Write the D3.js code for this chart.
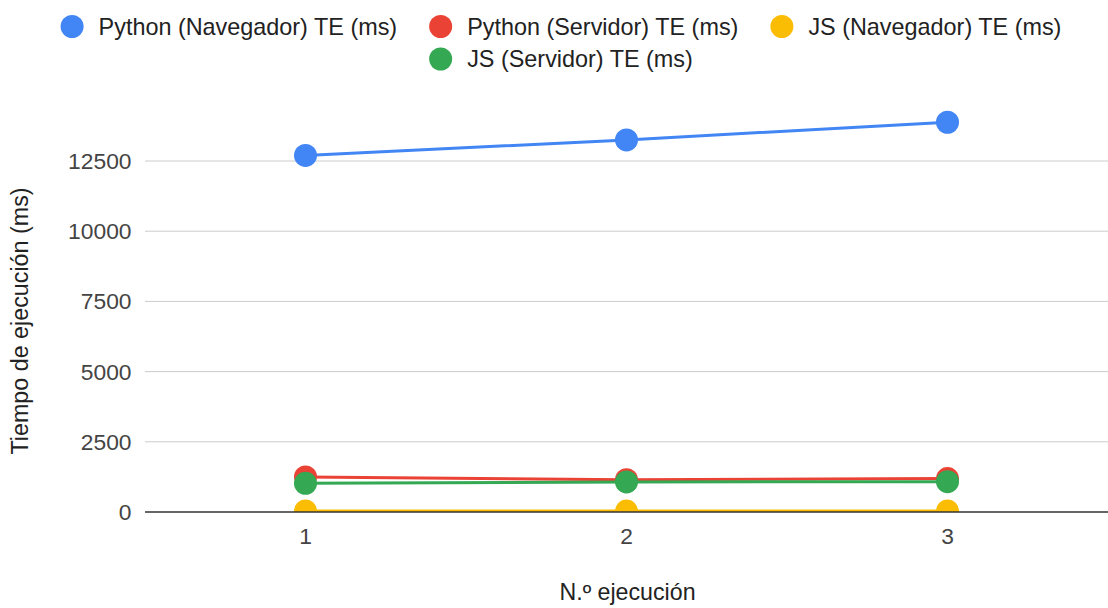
<!DOCTYPE html>
<html><head><meta charset="utf-8">
<script src="https://cdn.jsdelivr.net/npm/d3@7"></script>
<style>body{margin:0;background:#fff}svg{display:block;font-family:"Liberation Sans",Arial,sans-serif}</style>
</head><body>
<svg id="c" width="1108" height="608"></svg>
<script>
const categories = [1, 2, 3];
const seriesNames = ["Python (Navegador) TE (ms)", "Python (Servidor) TE (ms)", "JS (Navegador) TE (ms)", "JS (Servidor) TE (ms)"];
const pythonNavegador = [12700, 13250, 13880];
const pythonServidor = [1250, 1150, 1190];
const jsNavegador = [40, 35, 40];
const jsServidor = [1020, 1070, 1080];
const yTicks = [0, 2500, 5000, 7500, 10000, 12500];
const colors = ["#4285f4", "#ea4335", "#fbbc04", "#34a853"];
const series = [pythonNavegador, pythonServidor, jsNavegador, jsServidor];

(function () {
const svg = d3.select("#c");
const pl = 145, pr = 1108, pt = 90.8, pb = 512;
const x = d3.scalePoint().domain(categories).range([pl, pr]).padding(0.5);
const y = d3.scaleLinear().domain([0, 15000]).range([pb, pt]);

svg.append("defs").append("clipPath").attr("id", "plotclip")
  .append("rect").attr("x", 0).attr("y", 0).attr("width", 1108).attr("height", pb);

svg.append("g").selectAll("line").data(yTicks.filter(d => d !== 0)).join("line")
  .attr("x1", pl).attr("x2", pr).attr("y1", d => y(d)).attr("y2", d => y(d))
  .attr("stroke", "#cccccc").attr("stroke-width", 1);

svg.append("g").selectAll("text").data(yTicks).join("text")
  .attr("x", 131.5).attr("y", d => y(d)).attr("dy", "0.35em")
  .attr("text-anchor", "end").attr("font-size", 22.8).attr("fill", "#444")
  .text(d => d);

svg.append("g").selectAll("text").data(categories).join("text")
  .attr("x", d => x(d)).attr("y", 543.5).attr("text-anchor", "middle")
  .attr("font-size", 22.8).attr("fill", "#444").text(d => d);

const line = d3.line().x((d, i) => x(categories[i])).y(d => y(d));
const sg = svg.append("g").attr("clip-path", "url(#plotclip)");
series.forEach((s, si) => {
  const g = sg.append("g");
  g.append("path").datum(s).attr("d", line).attr("fill", "none")
    .attr("stroke", colors[si]).attr("stroke-width", 3);
  g.selectAll("circle").data(s).join("circle")
    .attr("cx", (d, i) => x(categories[i])).attr("cy", d => y(d)).attr("r", 11.5)
    .attr("fill", colors[si]);
});

svg.append("line").attr("x1", pl).attr("x2", pr).attr("y1", y(0)).attr("y2", y(0))
  .attr("stroke", "#333").attr("stroke-width", 1.5);

svg.append("text").attr("transform", "translate(28,321) rotate(-90)")
  .attr("text-anchor", "middle").attr("font-size", 23.3).attr("fill", "#222")
  .text("Tiempo de ejecución (ms)");
svg.append("text").attr("x", 627.5).attr("y", 600).attr("text-anchor", "middle")
  .attr("font-size", 23.2).attr("fill", "#222").text("N.º ejecución");

const rows = [[0, 1, 2], [3]];
const rowY = [26.5, 59];
const cx = 561, gap = 32, r = 11.5, pad = 15;
rows.forEach((row, ri) => {
  const lg = svg.append("g");
  let xpos = 0;
  row.forEach(si => {
    const it = lg.append("g").attr("transform", `translate(${xpos},0)`);
    it.append("circle").attr("cx", r).attr("cy", 0).attr("r", r).attr("fill", colors[si]);
    const t = it.append("text").attr("x", 2 * r + pad).attr("y", 0).attr("dy", "0.35em")
      .attr("font-size", 23.4).attr("fill", "#222").text(seriesNames[si]);
    xpos += 2 * r + pad + t.node().getComputedTextLength() + gap;
  });
  const w = xpos - gap;
  lg.attr("transform", `translate(${cx - w / 2},${rowY[ri]})`);
});
})();
</script>
</body></html>
